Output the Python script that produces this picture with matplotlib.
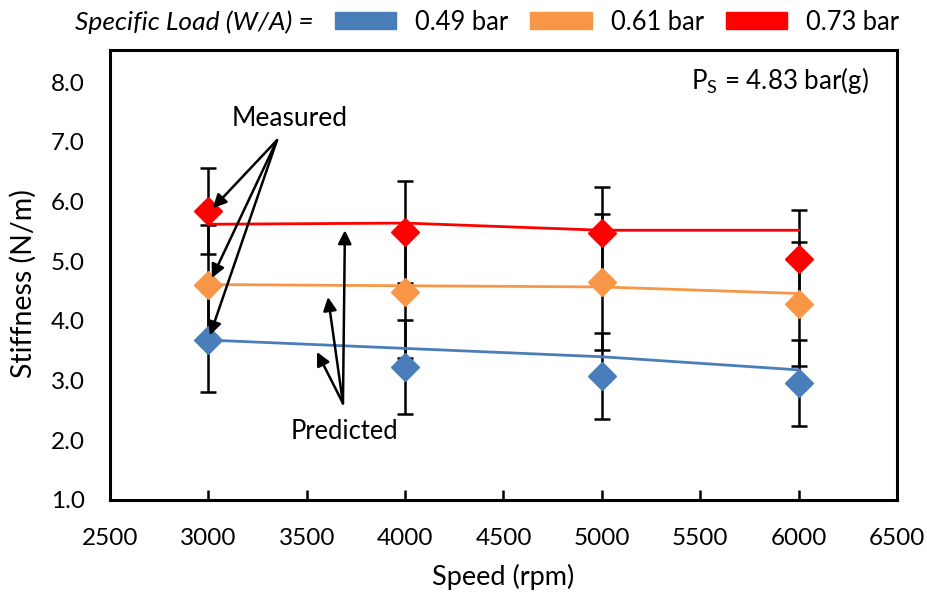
import matplotlib
matplotlib.use("Agg")
import matplotlib.pyplot as plt
from matplotlib.patches import Patch

plt.rcParams['font.family'] = ['Lato', 'DejaVu Sans']
plt.rcParams['mathtext.fontset'] = 'custom'
plt.rcParams['mathtext.rm'] = 'Lato'

speeds = [3000, 4000, 5000, 6000]
loads = ['0.49 bar', '0.61 bar', '0.73 bar']
colors = ['#4A7EBB', '#F79646', '#FF0000']

measured_049 = [3.68, 3.23, 3.08, 2.96]
measured_061 = [4.60, 4.48, 4.65, 4.28]
measured_073 = [5.84, 5.49, 5.47, 5.04]

err_049 = [0.87, 0.79, 0.72, 0.72]
err_061 = [1.00, 1.10, 1.14, 1.04]
err_073 = [0.72, 0.85, 0.77, 0.82]

predicted_049 = [3.68, 3.54, 3.40, 3.18]
predicted_061 = [4.61, 4.59, 4.57, 4.46]
predicted_073 = [5.62, 5.64, 5.52, 5.52]

measured = [measured_049, measured_061, measured_073]
errors = [err_049, err_061, err_073]
predicted = [predicted_049, predicted_061, predicted_073]

xticks = [2500, 3000, 3500, 4000, 4500, 5000, 5500, 6000, 6500]
yticks = [1.0, 2.0, 3.0, 4.0, 5.0, 6.0, 7.0, 8.0]

fig = plt.figure(figsize=(9.28, 5.96), dpi=100)
W, H = 928, 596
ax = fig.add_axes([110 / W, 1 - 500 / H, 787 / W, 450 / H])

FS = 17.5

for m, e, c in zip(measured, errors, colors):
    ax.errorbar(speeds, m, yerr=e, fmt='none', ecolor='black', elinewidth=1.8,
                capsize=5.5, capthick=1.8, zorder=2)
for m, c in zip(measured, colors):
    ax.plot(speeds, m, linestyle='none', marker='D', markersize=14,
            markerfacecolor=c, markeredgecolor=c, zorder=3)
for p, c in zip(predicted, colors):
    ax.plot(speeds, p, color=c, lw=2.0, zorder=4)

ax.set_xlim(2500, 6500)
ax.set_ylim(1.0, 8.54)
ax.set_xticks(xticks)
ax.set_xticklabels([str(t) for t in xticks])
ax.set_yticks(yticks)
ax.set_yticklabels([f"{t:.1f}" for t in yticks])
ax.tick_params(axis='x', direction='in', length=7, width=1.8, pad=20, labelsize=FS)
ax.tick_params(axis='y', length=0, pad=18, labelsize=FS)
for s in ax.spines.values():
    s.set_linewidth(2.2)
    s.set_color('black')

ax.set_xlabel('Speed (rpm)', fontsize=19.5)
ax.set_ylabel('Stiffness (N/m)', fontsize=20.5)
ax.xaxis.set_label_coords(0.5, -0.142)
ax.yaxis.set_label_coords(-0.093, 0.482)

ax.text(5905, 8.03, r'P$_\mathregular{S}$ = 4.83 bar(g)', fontsize=18.7,
        ha='center', va='center')

aprops = dict(arrowstyle='-|>', mutation_scale=20, lw=1.8, color='black',
              shrinkA=0, shrinkB=0)
ax.text(3415, 7.40, 'Measured', fontsize=19, ha='center', va='center')
for tip in [(3023, 5.89), (3018, 4.72), (3008, 3.76)]:
    ax.annotate('', xy=tip, xytext=(3349, 7.03), arrowprops=aprops, zorder=6)
ax.text(3694, 2.14, 'Predicted', fontsize=18.4, ha='center', va='center')
for tip in [(3694, 5.52), (3608, 4.40), (3552, 3.48)]:
    ax.annotate('', xy=tip, xytext=(3684, 2.62), arrowprops=aprops, zorder=6)

fig.text(75 / W, 1 - 22 / H, 'Specific Load (W/A) =', fontsize=19, style='italic',
         ha='left', va='center')
handles = [Patch(facecolor=c, edgecolor=c) for c in colors]
fig.legend(handles, loads, loc='center left', bbox_to_anchor=(335 / W, 1 - 22 / H),
           ncol=3, frameon=False, fontsize=18.4, handlelength=2.4, handleheight=0.6,
           handletextpad=0.75, columnspacing=0.85, borderpad=0, borderaxespad=0)

fig.savefig('out.png', dpi=100)
